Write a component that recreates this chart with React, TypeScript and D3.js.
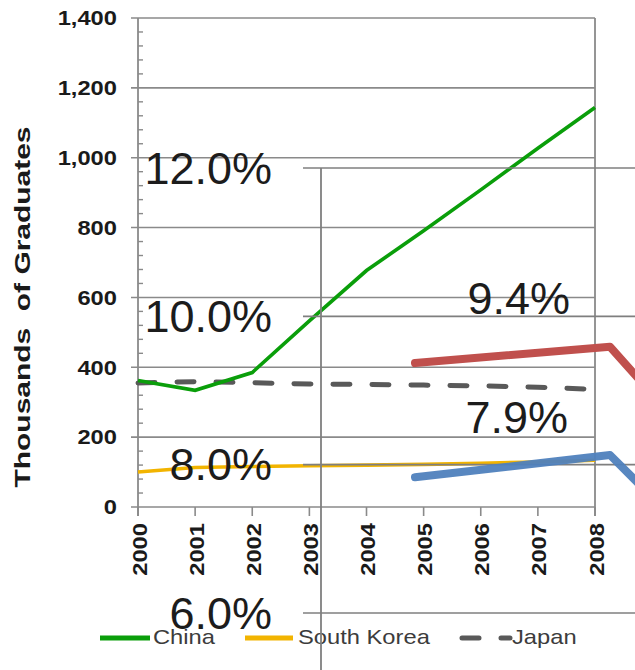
import React from "react";
import * as d3 from "d3";

const years = ["2000", "2001", "2002", "2003", "2004", "2005", "2006", "2007", "2008"];
const china = [362, 334, 385, 533, 677, 791, 908, 1027, 1144];
const southKorea = [100, 113, 116, 118, 120, 122, 125, 129, 134];
const japan = [355, 359, 356, 352, 351, 349, 347, 343, 337];
const yTicks = [0, 200, 400, 600, 800, 1000, 1200, 1400];
const legendNames = ["China", "South Korea", "Japan"];

// overlay (second chart pasted over)
const overlayTicks = [6, 8, 10, 12];
const overlayIdx = [0, 1, 2];
const overlayRed = [9.37, 9.59, 6.65];
const overlayBlue = [7.83, 8.13, 5.5];
const overlayLabels = ["9.4%", "7.9%"];

const W = 635;
const H = 670;
const FONT = "'Liberation Sans', Arial, sans-serif";
const SX = 1.13;

export default function App() {
  const x = d3.scalePoint<string>().domain(years).range([138, 595]);
  const y = d3.scaleLinear().domain([0, 1400]).range([507, 18]);
  const minor = d3.range(0, 1400, 40).filter((v) => v % 200 !== 0);

  const line = d3
    .line<number>()
    .x((_, i) => x(years[i]) as number)
    .y((d) => y(d));

  const ox = d3.scaleLinear().domain([0, 1]).range([415, 610]);
  const oy = d3.scaleLinear().domain([6, 12]).range([613, 168]);
  const oline = d3
    .line<number>()
    .x((_, i) => ox(overlayIdx[i]))
    .y((d) => oy(d));

  const grid = "#8a8a8a";
  const axisText = "#1a1a1a";

  return (
    <svg
      width={W}
      height={H}
      style={{ position: "absolute", left: 0, top: 0, background: "#fff" }}
      fontFamily={FONT}
    >
      <rect x={0} y={0} width={W} height={H} fill="#fff" />
      {/* main gridlines */}
      {yTicks.map((t) => (
        <line key={"g" + t} x1={131} x2={595} y1={y(t)} y2={y(t)} stroke={grid} strokeWidth={1.6} />
      ))}
      {minor.map((t) => (
        <line key={"m" + t} x1={138} x2={143} y1={y(t)} y2={y(t)} stroke={grid} strokeWidth={1.4} />
      ))}
      {/* axes & border */}
      <line x1={138} x2={138} y1={18} y2={516} stroke={grid} strokeWidth={1.8} />
      <line x1={595} x2={595} y1={18} y2={516} stroke={grid} strokeWidth={1.8} />
      {years.map((yr) => (
        <line key={"t" + yr} x1={x(yr)} x2={x(yr)} y1={507} y2={516} stroke={grid} strokeWidth={1.6} />
      ))}
      {/* y tick labels */}
      {yTicks.map((t) => (
        <text
          key={"yl" + t}
          transform={`translate(117,${y(t)}) scale(${SX},1)`}
          textAnchor="end"
          dy="0.35em"
          fontSize={21}
          fontWeight="bold"
          fill={axisText}
        >
          {d3.format(",")(t)}
        </text>
      ))}
      {/* x tick labels */}
      {years.map((yr) => (
        <text
          key={"xl" + yr}
          transform={`translate(${(x(yr) as number) + 1},523) rotate(-90) scale(${SX},1)`}
          textAnchor="end"
          dy="0.36em"
          fontSize={21}
          fontWeight="bold"
          fill={axisText}
        >
          {yr}
        </text>
      ))}
      {/* y title */}
      <text
        transform="translate(22,307) rotate(-90)"
        textAnchor="middle"
        dy="0.36em"
        fontSize={22}
        fontWeight="bold"
        fill={axisText}
        textLength={361}
        lengthAdjust="spacingAndGlyphs"
        style={{ whiteSpace: "pre" }}
      >
        {"Thousands  of Graduates"}
      </text>

      {/* series */}
      <path d={line(southKorea) || ""} fill="none" stroke="#f2b400" strokeWidth={3.6} />
      <path
        d={line(japan) || ""}
        fill="none"
        stroke="#595959"
        strokeWidth={5}
        strokeDasharray="17 22"
        strokeLinecap="round"
      />
      <path d={line(china) || ""} fill="none" stroke="#0a9e0a" strokeWidth={3.6} />

      {/* legend */}
      <line x1={100} x2={150} y1={638} y2={638} stroke="#0a9e0a" strokeWidth={5} />
      <line x1={245} x2={293} y1={638} y2={638} stroke="#f2b400" strokeWidth={5} />
      <line
        x1={462}
        x2={510}
        y1={638}
        y2={638}
        stroke="#595959"
        strokeWidth={5}
        strokeDasharray="17 22"
        strokeLinecap="round"
      />
      {[153, 298, 512].map((lx, i) => (
        <text
          key={"lg" + i}
          transform={`translate(${lx},644) scale(${SX},1)`}
          fontSize={21}
          fill="#3c3c3c"
        >
          {legendNames[i]}
        </text>
      ))}

      {/* overlay chart */}
      {overlayTicks.map((t) => (
        <line key={"og" + t} x1={303} x2={W} y1={oy(t)} y2={oy(t)} stroke="#7f7f7f" strokeWidth={1.6} />
      ))}
      <line x1={321} x2={321} y1={oy(12)} y2={H} stroke="#7f7f7f" strokeWidth={1.8} />
      {overlayTicks.map((t) => (
        <text
          key={"ot" + t}
          x={272}
          y={oy(t)}
          dy="0.35em"
          textAnchor="end"
          fontSize={45}
          fill="#1c1c1c"
        >
          {d3.format(".1f")(t) + "%"}
        </text>
      ))}
      <path
        d={oline(overlayRed) || ""}
        fill="none"
        stroke="#c0504d"
        strokeWidth={8}
        strokeLinecap="round"
        strokeLinejoin="round"
      />
      <path
        d={oline(overlayBlue) || ""}
        fill="none"
        stroke="#4f81bd"
        strokeWidth={8}
        strokeLinecap="round"
        strokeLinejoin="round"
        opacity={0.95}
      />
      <text x={570} y={298} dy="0.35em" textAnchor="end" fontSize={45} fill="#1c1c1c">
        {overlayLabels[0]}
      </text>
      <text x={568} y={417} dy="0.35em" textAnchor="end" fontSize={45} fill="#1c1c1c">
        {overlayLabels[1]}
      </text>
    </svg>
  );
}
